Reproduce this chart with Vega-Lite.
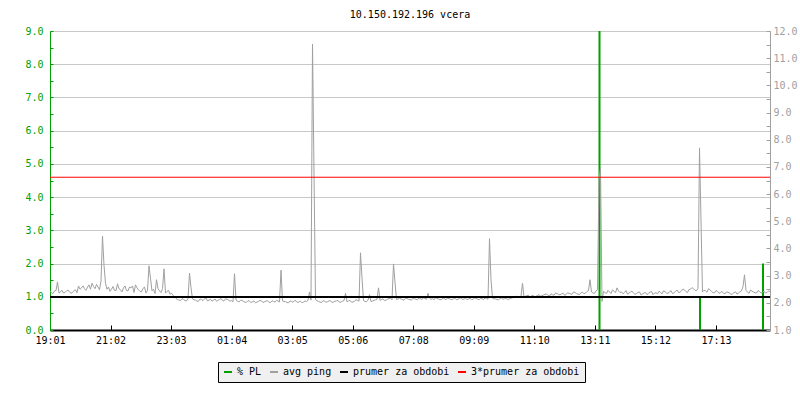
{
"$schema":"https://vega.github.io/schema/vega-lite/v6.json",
"autosize":"none","width":720,"height":299,
"padding":{"left":50,"top":31,"right":30,"bottom":70},
"background":"white",
"title":{"text":"10.150.192.196 vcera","font":"DejaVu Sans Mono","fontSize":10,"fontWeight":"normal","color":"#000000","anchor":"middle","offset":6},
"config":{"view":{"stroke":null},"axis":{"labelFont":"DejaVu Sans Mono","labelFontSize":10,"title":null,"labelOverlap":false},"axisRight":{"labelOverlap":false},"axisY":{"labelOverlap":false}},
"datasets":{
"pl":[{"t":1099,"v":9.0},{"t":1300,"v":1.0},{"t":1426,"v":2.0}],
"avg":[{"s":"prumer za obdobi","v":2.21},{"s":"3*prumer za obdobi","v":6.62}],
"ping":[
{"t":0,"v":2.42},{"t":3,"v":2.38},{"t":6,"v":2.34},{"t":9,"v":2.44},{"t":12,"v":2.45},{"t":15,"v":2.77},{"t":18,"v":2.36},{"t":21,"v":2.41},{"t":24,"v":2.46},{"t":27,"v":2.36},{"t":30,"v":2.38},{"t":33,"v":2.44},{"t":36,"v":2.47},{"t":39,"v":2.40},{"t":42,"v":2.35},{"t":45,"v":2.38},{"t":48,"v":2.45},{"t":51,"v":2.48},{"t":54,"v":2.37},{"t":57,"v":2.62},{"t":60,"v":2.50},{"t":63,"v":2.55},{"t":66,"v":2.62},{"t":69,"v":2.52},{"t":72,"v":2.46},{"t":75,"v":2.58},{"t":78,"v":2.66},{"t":81,"v":2.50},{"t":84,"v":2.72},{"t":87,"v":2.60},{"t":90,"v":2.52},{"t":93,"v":2.68},{"t":96,"v":2.58},{"t":99,"v":2.48},{"t":102,"v":2.80},{"t":105,"v":4.46},{"t":108,"v":3.38},{"t":111,"v":2.72},{"t":114,"v":2.50},{"t":117,"v":2.58},{"t":120,"v":2.42},{"t":123,"v":2.50},{"t":126,"v":2.60},{"t":129,"v":2.46},{"t":132,"v":2.45},{"t":135,"v":2.70},{"t":138,"v":2.52},{"t":141,"v":2.48},{"t":144,"v":2.40},{"t":147,"v":2.55},{"t":150,"v":2.62},{"t":153,"v":2.45},{"t":156,"v":2.44},{"t":159,"v":2.58},{"t":162,"v":2.55},{"t":165,"v":2.62},{"t":168,"v":2.38},{"t":171,"v":2.66},{"t":174,"v":2.55},{"t":177,"v":2.48},{"t":180,"v":2.42},{"t":183,"v":2.40},{"t":186,"v":2.53},{"t":189,"v":2.58},{"t":192,"v":2.36},{"t":195,"v":2.46},{"t":198,"v":3.36},{"t":201,"v":2.90},{"t":204,"v":2.44},{"t":207,"v":2.50},{"t":210,"v":2.34},{"t":213,"v":2.85},{"t":216,"v":2.52},{"t":219,"v":2.44},{"t":222,"v":2.38},{"t":225,"v":2.52},{"t":228,"v":3.25},{"t":231,"v":2.36},{"t":234,"v":2.42},{"t":237,"v":2.46},{"t":240,"v":2.32},{"t":243,"v":2.35},{"t":246,"v":2.28},
{"t":249,"v":2.22},{"t":252,"v":2.16},{"t":255,"v":2.12},{"t":258,"v":2.10},{"t":261,"v":2.08},{"t":264,"v":2.15},{"t":267,"v":2.13},{"t":270,"v":2.08},{"t":273,"v":2.07},{"t":276,"v":2.16},{"t":279,"v":3.09},{"t":282,"v":2.55},{"t":285,"v":2.14},{"t":288,"v":2.11},{"t":291,"v":2.10},{"t":294,"v":2.06},{"t":297,"v":2.06},{"t":300,"v":2.14},{"t":303,"v":2.12},{"t":306,"v":2.08},{"t":309,"v":2.15},{"t":312,"v":2.18},{"t":315,"v":2.07},{"t":318,"v":2.10},{"t":321,"v":2.13},{"t":324,"v":2.06},{"t":327,"v":2.10},{"t":330,"v":2.14},{"t":333,"v":2.06},{"t":336,"v":2.09},{"t":339,"v":2.12},{"t":342,"v":2.16},{"t":345,"v":2.08},{"t":348,"v":2.07},{"t":351,"v":2.15},{"t":354,"v":2.13},{"t":357,"v":2.10},{"t":360,"v":2.06},
{"t":363,"v":2.08},{"t":366,"v":2.04},{"t":369,"v":3.07},{"t":372,"v":2.10},{"t":375,"v":2.06},{"t":378,"v":2.03},{"t":381,"v":2.09},{"t":384,"v":2.09},{"t":387,"v":2.05},{"t":390,"v":2.02},{"t":393,"v":2.02},{"t":396,"v":2.08},{"t":399,"v":2.06},{"t":402,"v":2.01},{"t":405,"v":2.04},{"t":408,"v":2.07},{"t":411,"v":2.00},{"t":414,"v":2.03},{"t":417,"v":2.05},{"t":420,"v":2.09},{"t":423,"v":2.07},{"t":426,"v":2.01},{"t":429,"v":2.04},{"t":432,"v":2.06},{"t":435,"v":2.08},{"t":438,"v":2.02},{"t":441,"v":2.01},{"t":444,"v":2.08},{"t":447,"v":2.05},{"t":450,"v":2.03},{"t":453,"v":2.09},{"t":456,"v":2.07},{"t":459,"v":2.03},{"t":462,"v":3.20},{"t":465,"v":2.07},{"t":468,"v":2.05},{"t":471,"v":2.04},{"t":474,"v":2.01},{"t":477,"v":2.00},{"t":480,"v":2.07},{"t":483,"v":2.05},{"t":486,"v":2.02},{"t":489,"v":2.08},{"t":492,"v":2.08},{"t":495,"v":2.01},{"t":498,"v":2.03},{"t":501,"v":2.06},{"t":504,"v":2.00},{"t":507,"v":2.03},{"t":510,"v":2.07},{"t":513,"v":2.05},{"t":516,"v":2.09},{"t":519,"v":2.40},{"t":522,"v":2.10},{"t":525,"v":11.52},{"t":528,"v":6.78},{"t":531,"v":2.12},{"t":534,"v":2.08},{"t":537,"v":2.05},{"t":540,"v":2.03},{"t":543,"v":2.01},{"t":546,"v":2.08},{"t":549,"v":2.06},{"t":552,"v":2.02},{"t":555,"v":2.04},{"t":558,"v":2.07},{"t":561,"v":2.08},{"t":564,"v":2.01},{"t":567,"v":2.03},{"t":570,"v":2.06},{"t":573,"v":2.07},{"t":576,"v":2.09},{"t":579,"v":2.02},{"t":582,"v":2.03},{"t":585,"v":2.06},{"t":588,"v":2.08},{"t":591,"v":2.35},{"t":594,"v":2.04},{"t":597,"v":2.07},{"t":600,"v":2.09},{"t":603,"v":2.02},{"t":606,"v":2.03},{"t":609,"v":2.06},{"t":612,"v":2.11},{"t":615,"v":2.09},{"t":618,"v":2.06},{"t":621,"v":3.84},{"t":624,"v":2.92},{"t":627,"v":2.08},{"t":630,"v":2.05},{"t":633,"v":2.04},{"t":636,"v":2.10},{"t":639,"v":2.30},{"t":642,"v":2.04},{"t":645,"v":2.07},{"t":648,"v":2.09},{"t":651,"v":2.11},{"t":654,"v":2.13},{"t":657,"v":2.55},{"t":660,"v":2.09},{"t":663,"v":2.12},{"t":666,"v":2.15},{"t":669,"v":2.08},{"t":672,"v":2.10},{"t":675,"v":2.13},{"t":678,"v":2.16},{"t":681,"v":2.17},{"t":684,"v":2.11},{"t":687,"v":3.43},{"t":690,"v":2.76},{"t":693,"v":2.12},{"t":696,"v":2.14},{"t":699,"v":2.17},
{"t":702,"v":2.14},{"t":705,"v":2.12},{"t":708,"v":2.10},{"t":711,"v":2.17},{"t":714,"v":2.16},{"t":717,"v":2.13},{"t":720,"v":2.12},{"t":723,"v":2.10},{"t":726,"v":2.17},{"t":729,"v":2.15},{"t":732,"v":2.13},{"t":735,"v":2.11},{"t":738,"v":2.18},{"t":741,"v":2.15},{"t":744,"v":2.12},{"t":747,"v":2.19},{"t":750,"v":2.16},{"t":753,"v":2.13},{"t":756,"v":2.35},{"t":759,"v":2.17},{"t":762,"v":2.13},{"t":765,"v":2.15},{"t":768,"v":2.11},{"t":771,"v":2.19},{"t":774,"v":2.16},{"t":777,"v":2.14},{"t":780,"v":2.12},{"t":783,"v":2.11},{"t":786,"v":2.18},{"t":789,"v":2.15},{"t":792,"v":2.11},{"t":795,"v":2.18},{"t":798,"v":2.15},{"t":801,"v":2.13},{"t":804,"v":2.12},{"t":807,"v":2.15},{"t":810,"v":2.17},{"t":813,"v":2.11},{"t":816,"v":2.13},{"t":819,"v":2.16},{"t":822,"v":2.19},{"t":825,"v":2.12},{"t":828,"v":2.14},{"t":831,"v":2.17},{"t":834,"v":2.12},{"t":837,"v":2.14},{"t":840,"v":2.17},{"t":843,"v":2.12},{"t":846,"v":2.13},{"t":849,"v":2.18},{"t":852,"v":2.16},{"t":855,"v":2.14},{"t":858,"v":2.11},{"t":861,"v":2.17},{"t":864,"v":2.15},{"t":867,"v":2.12},{"t":870,"v":2.18},{"t":873,"v":2.16},{"t":876,"v":2.13},{"t":879,"v":4.36},{"t":882,"v":2.85},{"t":885,"v":2.17},{"t":888,"v":2.14},{"t":891,"v":2.15},{"t":894,"v":2.12},{"t":897,"v":2.11},{"t":900,"v":2.16},{"t":903,"v":2.18},{"t":906,"v":2.13},{"t":909,"v":2.15},{"t":912,"v":2.17},{"t":915,"v":2.12},{"t":918,"v":2.14},{"t":921,"v":2.16},{"t":924,"v":2.18},{"t":927,"v":2.20},{"t":930,"v":2.22},{"t":933,"v":2.25},{"t":936,"v":2.19},{"t":939,"v":2.21},{"t":942,"v":2.24},{"t":945,"v":2.72},{"t":948,"v":2.21},{"t":951,"v":2.24},{"t":954,"v":2.26},{"t":957,"v":2.28},{"t":960,"v":2.22},{"t":963,"v":2.25},{"t":966,"v":2.28},{"t":969,"v":2.22},{"t":972,"v":2.24},{"t":975,"v":2.27},{"t":978,"v":2.30},{"t":981,"v":2.24},
{"t":984,"v":2.26},{"t":987,"v":2.29},{"t":990,"v":2.31},{"t":993,"v":2.33},{"t":996,"v":2.27},{"t":999,"v":2.25},{"t":1002,"v":2.33},{"t":1005,"v":2.30},{"t":1008,"v":2.28},{"t":1011,"v":2.36},{"t":1014,"v":2.34},{"t":1017,"v":2.31},{"t":1020,"v":2.29},{"t":1023,"v":2.33},{"t":1026,"v":2.36},{"t":1029,"v":2.28},{"t":1032,"v":2.30},{"t":1035,"v":2.37},{"t":1038,"v":2.35},{"t":1041,"v":2.33},{"t":1044,"v":2.31},{"t":1047,"v":2.40},{"t":1050,"v":2.38},{"t":1053,"v":2.34},{"t":1056,"v":2.32},{"t":1059,"v":2.30},{"t":1062,"v":2.37},{"t":1065,"v":2.39},{"t":1068,"v":2.33},{"t":1071,"v":2.36},{"t":1074,"v":2.42},{"t":1077,"v":2.45},{"t":1080,"v":2.85},{"t":1083,"v":2.40},{"t":1086,"v":2.36},{"t":1089,"v":2.35},{"t":1092,"v":2.44},{"t":1095,"v":2.48},{"t":1098,"v":6.52},{"t":1101,"v":6.96},{"t":1104,"v":2.05},
{"t":1107,"v":2.42},{"t":1110,"v":2.38},{"t":1113,"v":2.34},{"t":1116,"v":2.46},{"t":1119,"v":2.40},{"t":1122,"v":2.34},{"t":1125,"v":2.48},{"t":1128,"v":2.43},{"t":1131,"v":2.37},{"t":1134,"v":2.55},{"t":1137,"v":2.44},{"t":1140,"v":2.38},{"t":1143,"v":2.40},{"t":1146,"v":2.33},{"t":1149,"v":2.38},{"t":1152,"v":2.45},{"t":1155,"v":2.32},{"t":1158,"v":2.36},{"t":1161,"v":2.40},{"t":1164,"v":2.43},{"t":1167,"v":2.36},{"t":1170,"v":2.31},{"t":1173,"v":2.34},{"t":1176,"v":2.38},{"t":1179,"v":2.40},{"t":1182,"v":2.29},{"t":1185,"v":2.33},{"t":1188,"v":2.36},{"t":1191,"v":2.38},{"t":1194,"v":2.30},{"t":1197,"v":2.35},{"t":1200,"v":2.39},{"t":1203,"v":2.42},{"t":1206,"v":2.30},{"t":1209,"v":2.36},{"t":1212,"v":2.37},{"t":1215,"v":2.33},{"t":1218,"v":2.43},{"t":1221,"v":2.38},{"t":1224,"v":2.33},{"t":1227,"v":2.44},{"t":1230,"v":2.41},{"t":1233,"v":2.36},{"t":1236,"v":2.35},{"t":1239,"v":2.40},{"t":1242,"v":2.45},{"t":1245,"v":2.34},{"t":1248,"v":2.37},{"t":1251,"v":2.42},{"t":1254,"v":2.47},{"t":1257,"v":2.38},{"t":1260,"v":2.39},{"t":1263,"v":2.44},{"t":1266,"v":2.51},{"t":1269,"v":2.47},{"t":1272,"v":2.41},{"t":1275,"v":2.38},{"t":1278,"v":2.49},{"t":1281,"v":2.50},{"t":1284,"v":2.56},{"t":1287,"v":2.52},{"t":1290,"v":2.46},{"t":1293,"v":2.45},{"t":1296,"v":2.53},{"t":1299,"v":7.70},{"t":1302,"v":5.01},{"t":1305,"v":2.40},{"t":1308,"v":2.46},{"t":1311,"v":2.44},{"t":1314,"v":2.39},{"t":1317,"v":2.52},{"t":1320,"v":2.48},{"t":1323,"v":2.42},{"t":1326,"v":2.37},{"t":1329,"v":2.37},{"t":1332,"v":2.45},{"t":1335,"v":2.42},{"t":1338,"v":2.35},{"t":1341,"v":2.38},{"t":1344,"v":2.42},{"t":1347,"v":2.35},{"t":1350,"v":2.33},{"t":1353,"v":2.40},{"t":1356,"v":2.39},{"t":1359,"v":2.36},{"t":1362,"v":2.31},{"t":1365,"v":2.33},{"t":1368,"v":2.38},{"t":1371,"v":2.40},{"t":1374,"v":2.32},{"t":1377,"v":2.36},{"t":1380,"v":2.41},{"t":1383,"v":2.44},{"t":1386,"v":2.60},{"t":1389,"v":3.03},{"t":1392,"v":2.45},{"t":1395,"v":2.40},{"t":1398,"v":2.35},{"t":1401,"v":2.47},{"t":1404,"v":2.43},{"t":1407,"v":2.40},{"t":1410,"v":2.37},{"t":1413,"v":2.36},{"t":1416,"v":2.45},{"t":1419,"v":2.42},{"t":1422,"v":2.36},{"t":1425,"v":2.38},{"t":1428,"v":2.43},{"t":1431,"v":2.36},{"t":1434,"v":2.38},{"t":1437,"v":2.44},{"t":1440,"v":2.41}
]},
"layer":[
{"data":{"name":"pl"},
 "mark":{"type":"rule","strokeWidth":2},
 "encoding":{
  "x":{"field":"t","type":"quantitative","scale":{"domain":[0,1440],"nice":false,"zero":false},
   "axis":{"values":[0,121.08,242.16,363.24,484.32,605.4,726.48,847.56,968.64,1089.72,1210.8,1331.88],
    "labelExpr":"['19:01','21:02','23:03','01:04','03:05','05:06','07:08','09:09','11:10','13:11','15:12','17:13'][round(datum.value/121.08)]",
    "grid":false,"domainColor":"#000000","domainWidth":2,"tickColor":"#000000","tickSize":-5,"labelPadding":10,"labelColor":"#000000","labelFlush":false,"labelOverlap":false}},
  "y":{"field":"v","type":"quantitative","scale":{"domain":[0,9],"nice":false,"clamp":true},
   "axis":{"orient":"left","values":[0,0.5,1,1.5,2,2.5,3,3.5,4,4.5,5,5.5,6,6.5,7,7.5,8,8.5,9],
    "labelExpr":"datum.value % 1 === 0 ? format(datum.value,'.1f') : ''",
    "labelColor":"#00a000","domainColor":"#00a000","tickColor":"#00a000","tickSize":-3,"labelPadding":10,"labelOverlap":false,
    "grid":true,"gridColor":{"condition":{"test":"datum.value % 1 !== 0","value":"transparent"},"value":"#c8c8c8"}}},
  "y2":{"datum":0},
  "color":{"datum":"% PL","type":"nominal","title":null,
   "scale":{"domain":["% PL","avg ping","prumer za obdobi","3*prumer za obdobi"],"range":["#00a000","#a0a0a0","#000000","#ff0000"]},
   "legend":{"orient":"none","legendX":168,"legendY":331,"direction":"horizontal","title":null,
    "symbolType":"stroke","symbolStrokeWidth":2,"symbolSize":64,"labelFont":"DejaVu Sans Mono","labelFontSize":10,"labelColor":"#000000",
    "fillColor":"#f0f0f0","strokeColor":"#000000","padding":5,"columnPadding":4,"labelOffset":4}}
 }},
{"layer":[
 {"data":{"name":"ping"},
  "mark":{"type":"line","strokeWidth":1,"interpolate":"linear"},
  "encoding":{
   "x":{"field":"t","type":"quantitative"},
   "y":{"field":"v","type":"quantitative","scale":{"domain":[1,12],"nice":false,"zero":false},
    "axis":{"orient":"right","values":[1,1.5,2,2.5,3,3.5,4,4.5,5,5.5,6,6.5,7,7.5,8,8.5,9,9.5,10,10.5,11,11.5,12],
     "labelExpr":"datum.value % 1 === 0 ? format(datum.value,'.1f') : ''",
     "labelColor":"#a0a0a0","domainColor":"#a0a0a0","tickColor":"#a0a0a0","tickSize":-4,"labelPadding":7,"grid":false,"labelOverlap":false,"labelBound":false}},
   "color":{"datum":"avg ping","type":"nominal","title":null}
  }},
 {"data":{"name":"avg"},
  "mark":{"type":"rule"},
  "encoding":{
   "y":{"field":"v","type":"quantitative",
    "axis":{"orient":"right","values":[1,1.5,2,2.5,3,3.5,4,4.5,5,5.5,6,6.5,7,7.5,8,8.5,9,9.5,10,10.5,11,11.5,12],
     "labelExpr":"datum.value % 1 === 0 ? format(datum.value,'.1f') : ''",
     "labelColor":"#a0a0a0","domainColor":"#a0a0a0","tickColor":"#a0a0a0","tickSize":-4,"labelPadding":7,"grid":false,"labelOverlap":false,"labelBound":false}},
   "color":{"field":"s","type":"nominal","title":null},
   "strokeWidth":{"condition":{"test":"datum.s === 'prumer za obdobi'","value":2},"value":1}
  }}
]}
],
"resolve":{"scale":{"y":"independent"}}
}
